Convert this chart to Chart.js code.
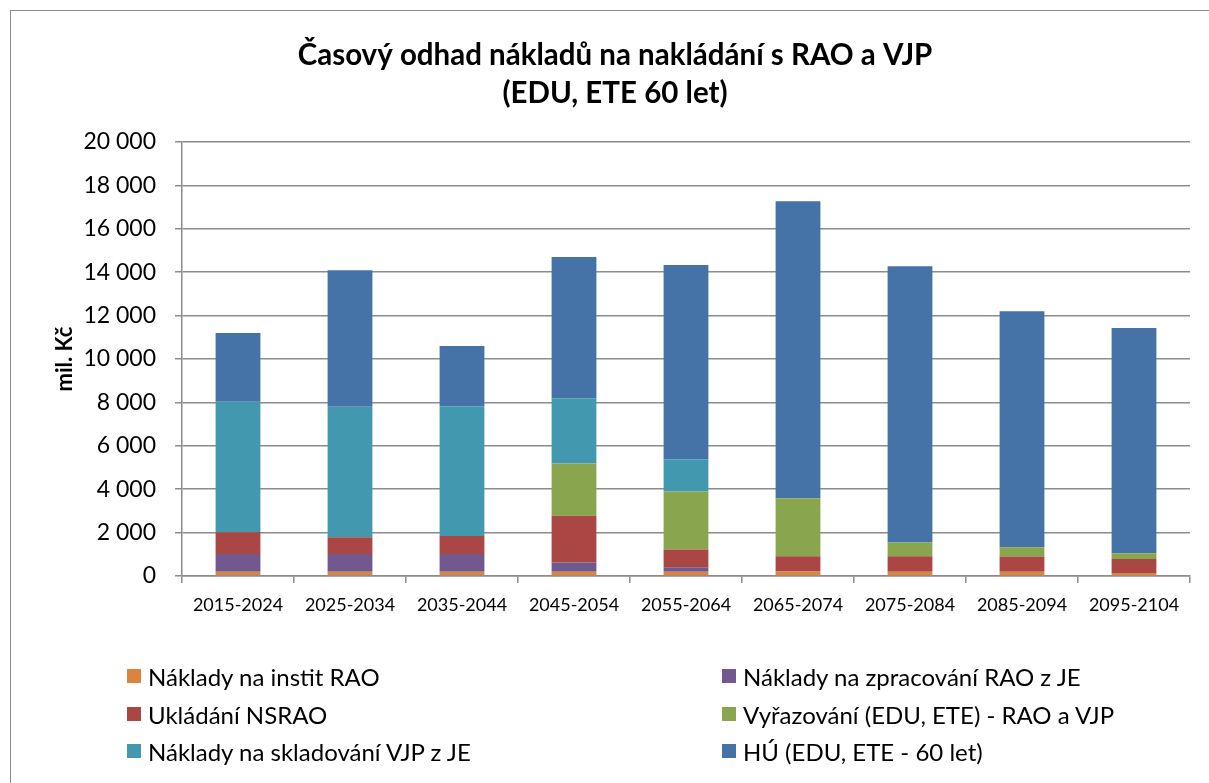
<!DOCTYPE html>
<html>
<head>
<meta charset="utf-8">
<script src="https://cdn.jsdelivr.net/npm/chart.js@4.4.1/dist/chart.umd.min.js"></script>
<style>
  html, body { margin: 0; padding: 0; background: #fff; overflow: hidden; }
  #wrap { position: relative; width: 1209px; height: 783px; }
  #frame { position: absolute; left: 10px; top: 10px; width: 1300px; height: 900px; border: 1.5px solid #8c8c8c; box-sizing: border-box; }
  #c { position: absolute; left: 0; top: 0; }
  #legend { position: absolute; left: 0; top: 0; width: 1209px; height: 783px; pointer-events: none;
            font-family: Lato, "Open Sans", sans-serif; font-size: 24px; color: #000; }
  .item { position: absolute; display: flex; align-items: center; white-space: nowrap; height: 30px; }
  .box { width: 14px; height: 14px; margin-right: 7px; }
</style>
</head>
<body>
<div id="wrap">
  <div id="frame"></div>
  <canvas id="c" width="1209" height="783"></canvas>
  <div id="legend"></div>
</div>
<script>
var periods = ["2015-2024", "2025-2034", "2035-2044", "2045-2054", "2055-2064", "2065-2074", "2075-2084", "2085-2094", "2095-2104"];

var institRAO    = [200, 200, 200, 200, 200, 210, 200, 200, 140];
var zpracovaniRAO = [810, 810, 810, 420, 200, 0, 0, 0, 0];
var ukladaniNSRAO = [1010, 770, 830, 2160, 820, 700, 710, 700, 645];
var vyrazovani   = [0, 0, 0, 2410, 2670, 2670, 630, 420, 260];
var skladovaniVJP = [6010, 6020, 5980, 3000, 1490, 0, 0, 0, 0];
var hu           = [3170, 6290, 2775, 6510, 8950, 13690, 12730, 10875, 10380];

var seriesNames = [
    "Náklady na instit RAO",
    "Náklady na zpracování RAO z JE",
    "Ukládání NSRAO",
    "Vyřazování (EDU, ETE) - RAO a VJP",
    "Náklady na skladování VJP z JE",
    "HÚ (EDU, ETE - 60 let)"
];
var seriesColors = ["#DB843D", "#71588F", "#AA4643", "#89A54E", "#4198AF", "#4572A7"];
var seriesData = [institRAO, zpracovaniRAO, ukladaniNSRAO, vyrazovani, skladovaniVJP, hu];

var yTicks = [0, 2000, 4000, 6000, 8000, 10000, 12000, 14000, 16000, 18000, 20000];

function fmt(v) {
    return String(v).replace(/\B(?=(\d{3})+(?!\d))/g, " ");
}

var datasets = [];
for (var i in seriesNames) {
    datasets.push({
        label: seriesNames[i],
        data: seriesData[i],
        backgroundColor: seriesColors[i],
        borderWidth: 0,
        barPercentage: 0.4,
        categoryPercentage: 1.0
    });
}

var gridGray = "#8c8c8c";

var chart = new Chart(document.getElementById("c"), {
    type: "bar",
    data: { labels: periods, datasets: datasets },
    options: {
        responsive: false,
        animation: false,
        layout: { padding: { left: 40, right: 19, top: 0, bottom: 0 } },
        plugins: {
            legend: { display: false },
            tooltip: { enabled: false },
            title: {
                display: true,
                text: ["Časový odhad nákladů na nakládání s RAO a VJP", "(EDU, ETE 60 let)"],
                color: "#000",
                font: { family: "Lato", size: 29.5, weight: "bold", lineHeight: 38 / 29.5 },
                padding: { top: 36, bottom: 30 }
            }
        },
        scales: {
            x: {
                stacked: true,
                grid: { drawOnChartArea: false, drawTicks: true, tickLength: 7, color: gridGray, tickColor: gridGray, lineWidth: 1.5 },
                border: { color: gridGray, width: 1.5 },
                ticks: { color: "#000", font: { family: "Lato", size: 18 }, padding: 11, maxRotation: 0, autoSkip: false },
                afterFit: function(scale) { scale.height = 207; }
            },
            y: {
                stacked: true,
                min: 0,
                max: 20000,
                afterBuildTicks: function(scale) {
                    scale.ticks = yTicks.map(function(v) { return { value: v }; });
                },
                grid: { color: gridGray, tickColor: gridGray, lineWidth: 1.5, tickLength: 7 },
                border: { color: gridGray, width: 1.5 },
                ticks: {
                    color: "#000",
                    font: { family: "Lato", size: 23 },
                    padding: 19,
                    callback: function(v) { return fmt(v); }
                },
                title: {
                    display: true,
                    text: "mil. Kč",
                    color: "#000",
                    font: { family: "Lato", size: 22, weight: "bold" },
                    padding: { top: 12, bottom: 0 }
                },
                afterFit: function(scale) { scale.width = 142; }
            }
        }
    }
});

// legend in two columns, built from the chart's datasets
var legendEl = document.getElementById("legend");
var colX = [127, 722];
var rowY = [676, 714, 751];
chart.data.datasets.forEach(function(ds, idx) {
    var item = document.createElement("div");
    item.className = "item";
    item.style.left = colX[idx % 2] + "px";
    item.style.top = (rowY[Math.floor(idx / 2)] - 15) + "px";
    var box = document.createElement("span");
    box.className = "box";
    box.style.background = ds.backgroundColor;
    var txt = document.createElement("span");
    txt.textContent = ds.label;
    item.appendChild(box);
    item.appendChild(txt);
    legendEl.appendChild(item);
});
</script>
</body>
</html>
